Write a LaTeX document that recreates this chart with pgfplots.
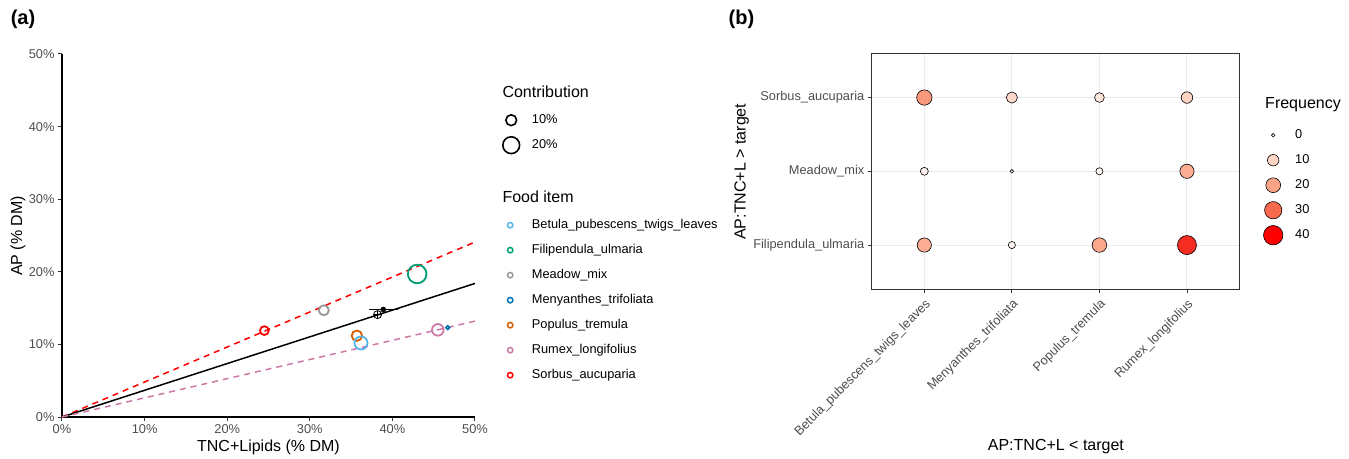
\documentclass[border=0pt]{standalone}
\usepackage{fontspec}
\setmainfont{Liberation Sans}
\usepackage{pgfplots}
\pgfplotsset{compat=1.18}
\definecolor{cBetula}{HTML}{56B4E9}
\definecolor{cFilip}{HTML}{009E73}
\definecolor{cMeadow}{HTML}{999999}
\definecolor{cMeny}{HTML}{0072B2}
\definecolor{cPop}{HTML}{D55E00}
\definecolor{cRumex}{HTML}{CC79A7}
\definecolor{cSorbus}{HTML}{FF0000}
\definecolor{gthirty}{HTML}{4D4D4D}
\definecolor{gtwenty}{HTML}{333333}
\definecolor{gridc}{HTML}{EBEBEB}
\definecolor{fA}{RGB}{255,255,255}
\definecolor{fB}{RGB}{253,211,195}
\definecolor{fC}{RGB}{251,164,135}
\definecolor{fD}{RGB}{247,106,78}
\definecolor{fE}{RGB}{255,0,0}
\newcommand{\fsz}[1]{\fontsize{#1}{#1}\selectfont}

\pgfplotstableread{
x y f
1 3 22
2 3 9
3 3 6
4 3 10
1 2 3
2 2 0
3 2 2
4 2 18
1 1 18
2 1 2
3 1 19
4 1 38
}\freqtable

\pgfplotsset{
  mylegend/.style={
    legend cell align=left,
    legend style={draw=none, fill=none, inner sep=0pt, row sep=13pt,
      nodes={inner sep=0pt, text height=9pt, text depth=3pt, font=\fsz{12.8}},
      /tikz/every odd column/.append style={column sep=#1}},
    legend image code/.code={%
      \path[draw=none, fill=none] (-10pt,-4pt) rectangle (10pt,4pt);
      \begin{pgfinterruptboundingbox}
      \draw[##1] plot coordinates {(0pt,0pt)};
      \end{pgfinterruptboundingbox}},
  },
}

\begin{document}
\begin{tikzpicture}[x=1pt,y=1pt]
\useasboundingbox (0,0) rectangle (1349,458);

% ---------------- panel (a)
\begin{axis}[
  at={(62pt,41pt)}, anchor=south west, scale only axis,
  width=413pt, height=363pt,
  xmin=0, xmax=50, ymin=0, ymax=50,
  axis x line*=bottom, axis y line*=left,
  axis line style={black, line width=1.1pt},
  xtick={0,10,...,50}, ytick={0,10,...,50},
  tick align=outside, major tick length=4pt,
  tick style={gtwenty, line width=1pt},
  xticklabel={\pgfmathprintnumber{\tick}\%},
  yticklabel={\pgfmathprintnumber{\tick}\%},
  /pgf/number format/assume math mode=true,
  ticklabel style={font=\fsz{12.8}, text=gthirty},
  clip=false,
  mylegend=11.7pt,
  legend style={at={(1.0605,0.5455)}, anchor=north west},
]
\addplot[forget plot, cSorbus, line width=1.5pt, dash pattern=on 6pt off 5pt] coordinates {(0,0) (50,24.1)};
\addplot[forget plot, black, line width=1.5pt] coordinates {(0,0) (50,18.4)};
\addplot[forget plot, cRumex, line width=1.5pt, dash pattern=on 6pt off 5pt] coordinates {(0,0) (50,13.2)};

\addplot[forget plot, only marks, mark=o, mark size=4.4pt, line width=1.8pt, cSorbus] coordinates {(24.5,11.9)};
\addplot[forget plot, only marks, mark=o, mark size=5.0pt, line width=1.8pt, cMeadow] coordinates {(31.7,14.7)};
\addplot[forget plot, only marks, mark=o, mark size=9.3pt, line width=1.8pt, cFilip] coordinates {(43.0,19.7)};
\addplot[forget plot, only marks, mark=o, mark size=5.2pt, line width=1.8pt, cPop] coordinates {(35.7,11.2)};
\addplot[forget plot, only marks, mark=o, mark size=6.5pt, line width=1.8pt, cBetula] coordinates {(36.2,10.2)};
\addplot[forget plot, only marks, mark=o, mark size=5.8pt, line width=1.8pt, cRumex] coordinates {(45.5,12.0)};
\addplot[forget plot, only marks, mark=o, mark size=1.9pt, line width=1.6pt, cMeny] coordinates {(46.7,12.3)};

\addplot[forget plot, only marks, mark=oplus, mark size=4pt, line width=0.8pt, black] coordinates {(38.2,14.1)};
\addplot[forget plot, only marks, mark=*, mark size=2.6pt, black,
  error bars/.cd, x dir=both, x explicit,
  error bar style={line width=0.7pt}, error mark options={mark size=2pt, line width=0.7pt}]
  coordinates {(38.9,14.8) +- (1.5,0)};

\addlegendimage{only marks, mark=o, mark size=2.7pt, line width=1.5pt, cBetula}
\addlegendentry{Betula\_pubescens\_twigs\_leaves}
\addlegendimage{only marks, mark=o, mark size=2.7pt, line width=1.5pt, cFilip}
\addlegendentry{Filipendula\_ulmaria}
\addlegendimage{only marks, mark=o, mark size=2.7pt, line width=1.5pt, cMeadow}
\addlegendentry{Meadow\_mix}
\addlegendimage{only marks, mark=o, mark size=2.7pt, line width=1.5pt, cMeny}
\addlegendentry{Menyanthes\_trifoliata}
\addlegendimage{only marks, mark=o, mark size=2.7pt, line width=1.5pt, cPop}
\addlegendentry{Populus\_tremula}
\addlegendimage{only marks, mark=o, mark size=2.7pt, line width=1.5pt, cRumex}
\addlegendentry{Rumex\_longifolius}
\addlegendimage{only marks, mark=o, mark size=2.7pt, line width=1.5pt, cSorbus}
\addlegendentry{Sorbus\_aucuparia}
\end{axis}

% Contribution legend (hidden axis with same geometry)
\begin{axis}[
  at={(62pt,41pt)}, anchor=south west, scale only axis,
  width=413pt, height=363pt, hide axis,
  xmin=0, xmax=1, ymin=0, ymax=1,
  mylegend=10.7pt,
  legend style={at={(1.0630,0.8347)}, anchor=north west},
]
\addlegendimage{only marks, mark=o, mark size=5.4pt, line width=1.6pt, black}
\addlegendentry{10\%}
\addlegendimage{only marks, mark=o, mark size=8.4pt, line width=1.6pt, black}
\addlegendentry{20\%}
\end{axis}

% ---------------- panel (b)
\begin{axis}[
  at={(871.8pt,168.7pt)}, anchor=south west, scale only axis,
  width=367.7pt, height=236pt,
  xmin=0.4, xmax=4.6, ymin=0.4, ymax=3.6,
  xtick={1,2,3,4}, ytick={1,2,3},
  xticklabels={Betula\_pubescens\_twigs\_leaves, Menyanthes\_trifoliata, Populus\_tremula, Rumex\_longifolius},
  yticklabels={Filipendula\_ulmaria, Meadow\_mix, Sorbus\_aucuparia},
  xtick pos=bottom, ytick pos=left,
  tick align=outside, major tick length=4pt,
  tick style={gtwenty, line width=0.8pt},
  grid=major, major grid style={gridc, line width=1pt},
  axis line style={gtwenty, line width=0.7pt},
  xticklabel style={rotate=45, anchor=north east, font=\fsz{12.8}, text=gthirty},
  yticklabel style={font=\fsz{12.8}, text=gthirty},
  colormap={wr}{rgb255=(255,255,255) rgb255=(253,211,195) rgb255=(251,164,135) rgb255=(247,106,78) rgb255=(245,30,20)},
  point meta min=0, point meta max=40,
  clip=false,
  mylegend=12pt,
  legend style={at={(1.0639,0.6792)}, anchor=north west},
]
\addplot[forget plot, scatter, only marks, mark=*, line width=0.6pt,
  point meta=explicit,
  scatter/use mapped color={draw=black, fill=mapped color},
  visualization depends on={1.8+1.25*sqrt(\thisrow{f}) \as \mr},
  scatter/@pre marker code/.append style={/tikz/mark size=\mr pt}]
  table[x=x, y=y, meta=f] {\freqtable};

\addlegendimage{only marks, mark=*, mark size=1.8pt, line width=0.6pt, draw=black, fill=fA}
\addlegendentry{0}
\addlegendimage{only marks, mark=*, mark size=5.75pt, line width=0.6pt, draw=black, fill=fB}
\addlegendentry{10}
\addlegendimage{only marks, mark=*, mark size=7.39pt, line width=0.6pt, draw=black, fill=fC}
\addlegendentry{20}
\addlegendimage{only marks, mark=*, mark size=8.65pt, line width=0.6pt, draw=black, fill=fD}
\addlegendentry{30}
\addlegendimage{only marks, mark=*, mark size=9.71pt, line width=0.6pt, draw=black, fill=fE}
\addlegendentry{40}
\end{axis}

% ---------------- titles and labels
\node[font=\bfseries\fsz{20}] at (23,439) {(a)};
\node[font=\bfseries\fsz{20}] at (741.5,439) {(b)};
\node[font=\fsz{16}] at (268.5,11) {TNC+Lipids (\% DM)};
\node[font=\fsz{16}, rotate=90] at (18,222) {AP (\% DM)};
\node[font=\fsz{16}, anchor=west] at (499,366) {Contribution};
\node[font=\fsz{16}, anchor=west] at (499,261) {Food item};
\node[font=\fsz{16}] at (1055.9,11.3) {AP:TNC+L < target};
\node[font=\fsz{16}, rotate=90] at (741.6,286.3) {AP:TNC+L > target};
\node[font=\fsz{16}, anchor=west] at (1261.7,353) {Frequency};
\end{tikzpicture}
\end{document}
